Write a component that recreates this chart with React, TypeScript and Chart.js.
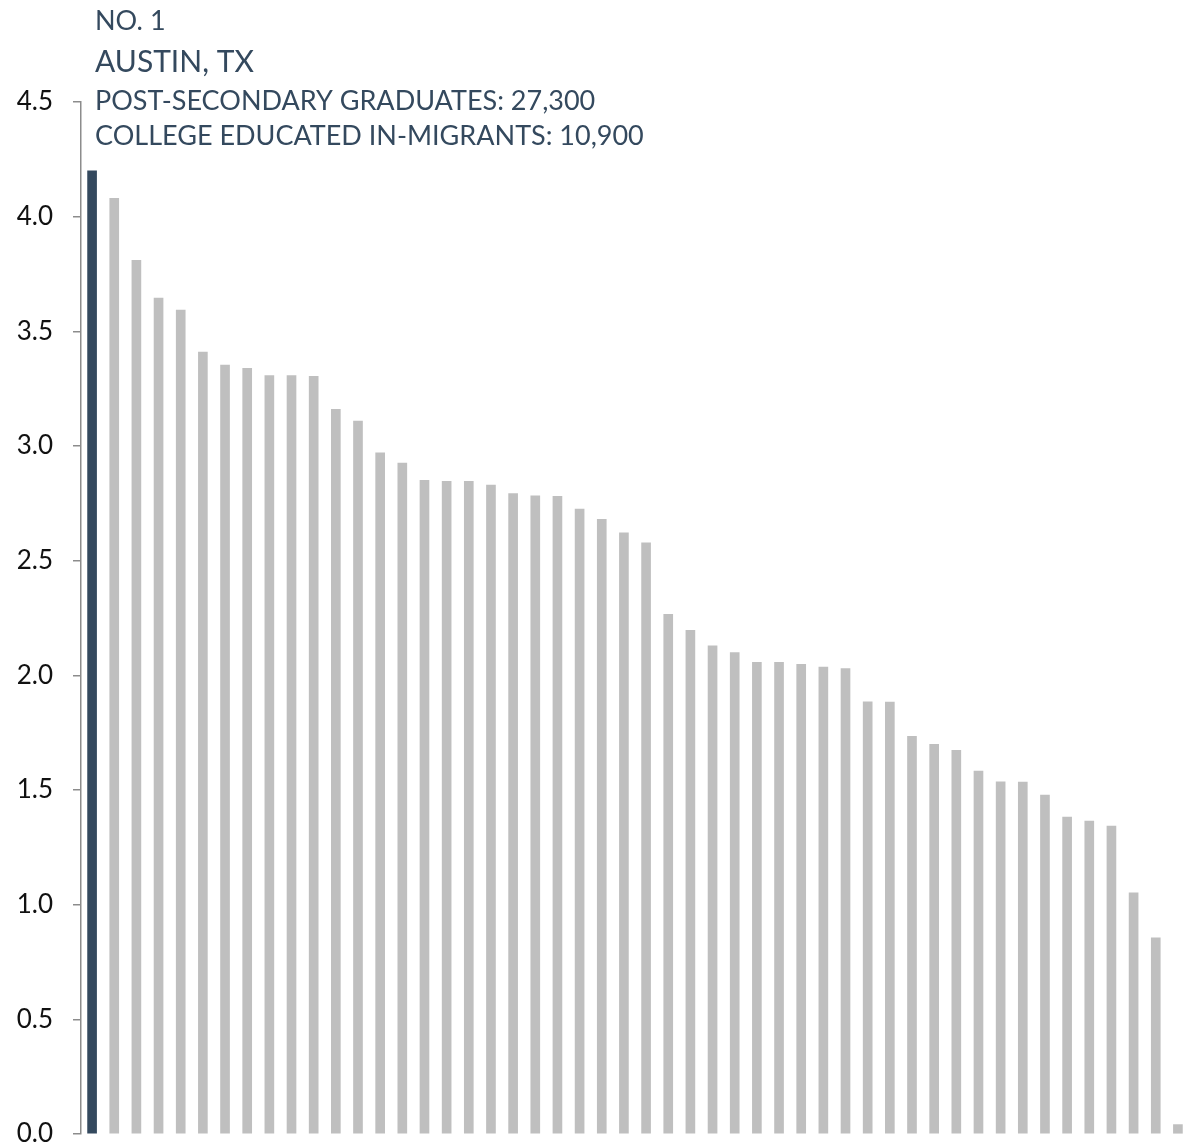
import React, { useEffect, useRef } from "react";
import { Chart, registerables } from "chart.js";

Chart.register(...registerables);

const categories: string[] = Array.from({ length: 50 }, (_, i) => `Metro ${i + 1}`);

const values: number[] = [
  4.2, 4.08, 3.81, 3.645, 3.593, 3.409, 3.353, 3.339, 3.307, 3.307,
  3.304, 3.16, 3.109, 2.97, 2.925, 2.85, 2.846, 2.846, 2.83, 2.792,
  2.783, 2.781, 2.725, 2.68, 2.621, 2.578, 2.266, 2.196, 2.129, 2.099,
  2.057, 2.057, 2.048, 2.036, 2.029, 1.885, 1.883, 1.734, 1.699, 1.673,
  1.583, 1.536, 1.534, 1.478, 1.382, 1.365, 1.343, 1.052, 0.855, 0.041,
];

const yTicks: number[] = [0, 0.5, 1, 1.5, 2, 2.5, 3, 3.5, 4, 4.5];

const annotationLines: string[] = [
  "NO. 1",
  "AUSTIN, TX",
  "POST-SECONDARY GRADUATES: 27,300",
  "COLLEGE EDUCATED IN-MIGRANTS: 10,900",
];

const HIGHLIGHT = "#34495E";
const GRAY = "#BFBFBF";
const AXIS = "#8C8C8C";
const FONT = "Lato, 'Open Sans', sans-serif";

export default function App() {
  const ref = useRef<HTMLCanvasElement | null>(null);

  useEffect(() => {
    if (!ref.current) return;
    const annotationPlugin = {
      id: "annotationText",
      afterDraw(chart: any) {
        const ctx = chart.ctx;
        const x = chart.chartArea.left + 14;
        const styles = [
          { size: 27, y: 29.5 },
          { size: 30, y: 71.5 },
          { size: 27, y: 110 },
          { size: 27, y: 145 },
        ];
        ctx.save();
        ctx.fillStyle = HIGHLIGHT;
        ctx.textAlign = "left";
        ctx.textBaseline = "alphabetic";
        annotationLines.forEach((t, i) => {
          ctx.font = `${styles[i].size}px ${FONT}`;
          ctx.fillText(t, x, styles[i].y);
        });
        ctx.restore();
      },
    };

    const chart = new Chart(ref.current, {
      type: "bar",
      data: {
        labels: categories,
        datasets: [
          {
            data: values,
            backgroundColor: values.map((_, i) => (i === 0 ? HIGHLIGHT : GRAY)),
            barThickness: 9,
            borderWidth: 0,
          },
        ],
      },
      options: {
        animation: false,
        responsive: false,
        layout: { padding: { top: 102, right: 3, bottom: 9, left: 0 } },
        plugins: {
          legend: { display: false },
          tooltip: { enabled: false },
        },
        scales: {
          x: { display: false },
          y: {
            min: 0,
            max: 4.5,
            afterBuildTicks: (s: any) => {
              s.ticks = yTicks.map((v) => ({ value: v }));
            },
            afterFit: (s: any) => {
              s.width = 81;
              s.paddingTop = 0;
              s.paddingBottom = 0;
            },
            grid: {
              drawOnChartArea: false,
              drawTicks: true,
              tickLength: 8,
              color: AXIS,
              lineWidth: 1.5,
            },
            border: { display: true, color: AXIS, width: 1.5 },
            ticks: {
              padding: 20,
              color: "#111111",
              font: { family: FONT, size: 26 },
              callback: (v: any) => Number(v).toFixed(1),
            },
          },
        },
      },
      plugins: [annotationPlugin],
    });
    return () => chart.destroy();
  }, []);

  return (
    <div style={{ position: "absolute", left: 0, top: 0, width: 1192, height: 1143 }}>
      <canvas ref={ref} width={1192} height={1143} style={{ display: "block" }} />
    </div>
  );
}
